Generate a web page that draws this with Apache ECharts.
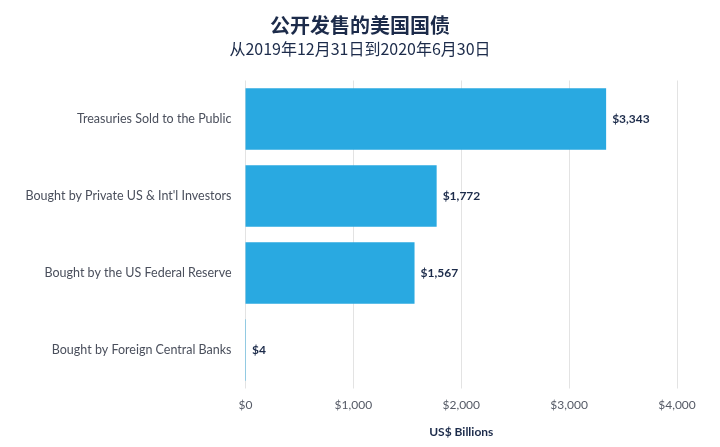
<!DOCTYPE html>
<html><head><meta charset="utf-8">
<script src="https://cdn.jsdelivr.net/npm/echarts@6/dist/echarts.min.js"></script>
<style>html,body{margin:0;padding:0;background:#fff}#c{width:720px;height:447px}</style>
</head><body><div id="c"></div>
<script>
const categories = ["Treasuries Sold to the Public","Bought by Private US & Int'l Investors","Bought by the US Federal Reserve","Bought by Foreign Central Banks"];
const values = [3343, 1772, 1567, 4];
const titleText = "公开发售的美国国债";
const subtitleText = "从2019年12月31日到2020年6月30日";
const axisName = "US$ Billions";

const chart = echarts.init(document.getElementById('c'));
chart.setOption({
  animation:false,
  backgroundColor:'#fff',
  title:{
    text:titleText, subtext:subtitleText, left:'center', top:10, itemGap:6,
    textStyle:{fontFamily:'Noto Sans CJK SC', fontSize:20, fontWeight:'bold', color:'#1c2b4a'},
    subtextStyle:{fontFamily:'Noto Sans CJK SC', fontSize:16, color:'#1c2b4a'}
  },
  grid:{left:245.5, right:43, top:80.5, bottom:58.5, containLabel:false},
  xAxis:{
    type:'value', min:0, max:4000, interval:1000,
    name:axisName, nameLocation:'middle', nameGap:38,
    nameTextStyle:{fontFamily:'Lato', fontSize:12, fontWeight:'bold', color:'#1c2b4a'},
    axisLine:{show:false}, axisTick:{show:false},
    axisLabel:{fontFamily:'Lato', fontSize:12, color:'#555a66', margin:11,
      formatter:v=>'$'+v.toLocaleString('en-US')},
    splitLine:{lineStyle:{color:'#e3e3e3', width:1}}
  },
  yAxis:{
    type:'category', data:categories, inverse:true,
    axisLine:{show:false}, axisTick:{show:false},
    axisLabel:{fontFamily:'Lato', fontSize:12.5, color:'#4a4f5c', margin:14}
  },
  series:[{
    type:'bar', data:values, barWidth:'80%',
    itemStyle:{color:'#29a9e1'},
    label:{show:true, position:'right', distance:6, fontFamily:'Lato', fontSize:12, fontWeight:'bold', color:'#1c2b4a',
      formatter:p=>'$'+p.value.toLocaleString('en-US')}
  }]
});
</script></body></html>
